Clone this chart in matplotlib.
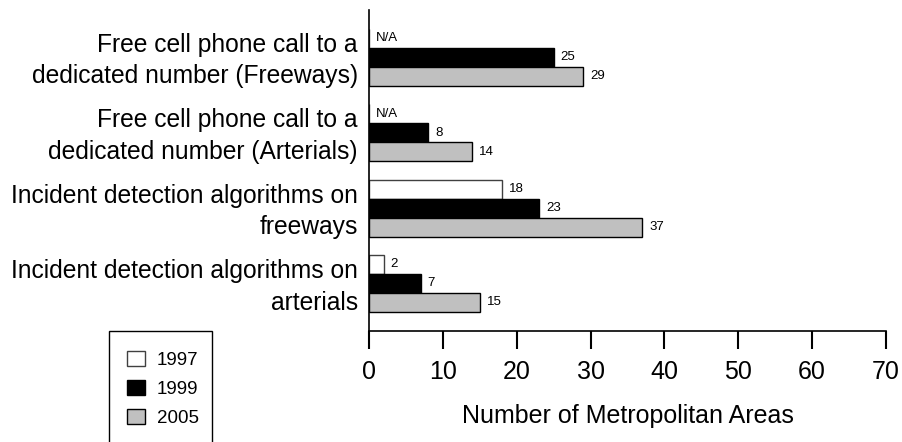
import matplotlib
matplotlib.use("Agg")
import matplotlib.pyplot as plt
import matplotlib.transforms as mtransforms
import numpy as np
from matplotlib.patches import Rectangle

plt.rcParams['font.family'] = ['Liberation Sans', 'DejaVu Sans']

categories = [
    "Free cell phone call to a\ndedicated number (Freeways)",
    "Free cell phone call to a\ndedicated number (Arterials)",
    "Incident detection algorithms on\nfreeways",
    "Incident detection algorithms on\narterials",
]
series_names = ["1997", "1999", "2005"]
values_1997 = [None, None, 18, 2]
values_1999 = [25, 8, 23, 7]
values_2005 = [29, 14, 37, 15]
series_values = [values_1997, values_1999, values_2005]
colors = ["#FFFFFF", "#000000", "#C0C0C0"]
edgecolors = ["#404040", "#000000", "#000000"]
xticks = [0, 10, 20, 30, 40, 50, 60, 70]

fig = plt.figure(figsize=(9.03, 4.42), dpi=100)
W, H = 903, 442
ax = fig.add_axes([369 / W, 1 - 331 / H, (886 - 369) / W, (331 - 10) / H])

group_pos = np.arange(len(categories)) * 3.97
offsets = [-1, 0, 1]
handles = []
for s, (vals, col, ec, off) in enumerate(zip(series_values, colors, edgecolors, offsets)):
    ys = group_pos + off
    widths = [v if v is not None else 0 for v in vals]
    bars = ax.barh(ys, widths, height=1.0, color=col, edgecolor=ec, linewidth=1.0,
                   label=series_names[s])
    handles.append(bars)
    for y, v in zip(ys, vals):
        txt = "N/A" if v is None else str(v)
        ax.annotate(txt, xy=(0 if v is None else v, y), xytext=(5, 0),
                    textcoords="offset points", va="center", ha="left", fontsize=9.5)

ax.set_xlim(0, 70)
ax.set_ylim(14.41, -2.48)
ax.set_xticks(xticks)
ax.set_xticklabels([str(t) for t in xticks], fontsize=18)
ax.set_yticks(group_pos)
ax.set_yticklabels(categories, fontsize=17.7, linespacing=1.4)
ax.tick_params(axis='y', length=0, pad=8)
ax.tick_params(axis='x', direction='out', length=13, width=1.5, pad=8)
shift = mtransforms.ScaledTranslation(0, 3 / 100, fig.dpi_scale_trans)
for lab in ax.get_yticklabels():
    lab.set_transform(lab.get_transform() + shift)
for sp in ['top', 'right']:
    ax.spines[sp].set_visible(False)
ax.spines['left'].set_linewidth(1.2)
ax.spines['bottom'].set_linewidth(1.2)
ax.set_xlabel("Number of Metropolitan Areas", fontsize=18, labelpad=14)

# legend box (extends past the bottom of the figure)
box = Rectangle((109 / W, -0.1), (212 - 109) / W, 0.1 + (1 - 331 / H),
                transform=fig.transFigure, fill=False, edgecolor="#000000", linewidth=1.0)
fig.patches.append(box)
fig.legend(handles=handles, labels=series_names, loc="upper left",
           bbox_to_anchor=(127 / W, 1 - 351 / H), frameon=False, fontsize=13.5,
           handlelength=0.96, handleheight=0.85, handletextpad=0.64,
           labelspacing=0.59, borderpad=0, borderaxespad=0)

fig.savefig("out.png", dpi=100)
